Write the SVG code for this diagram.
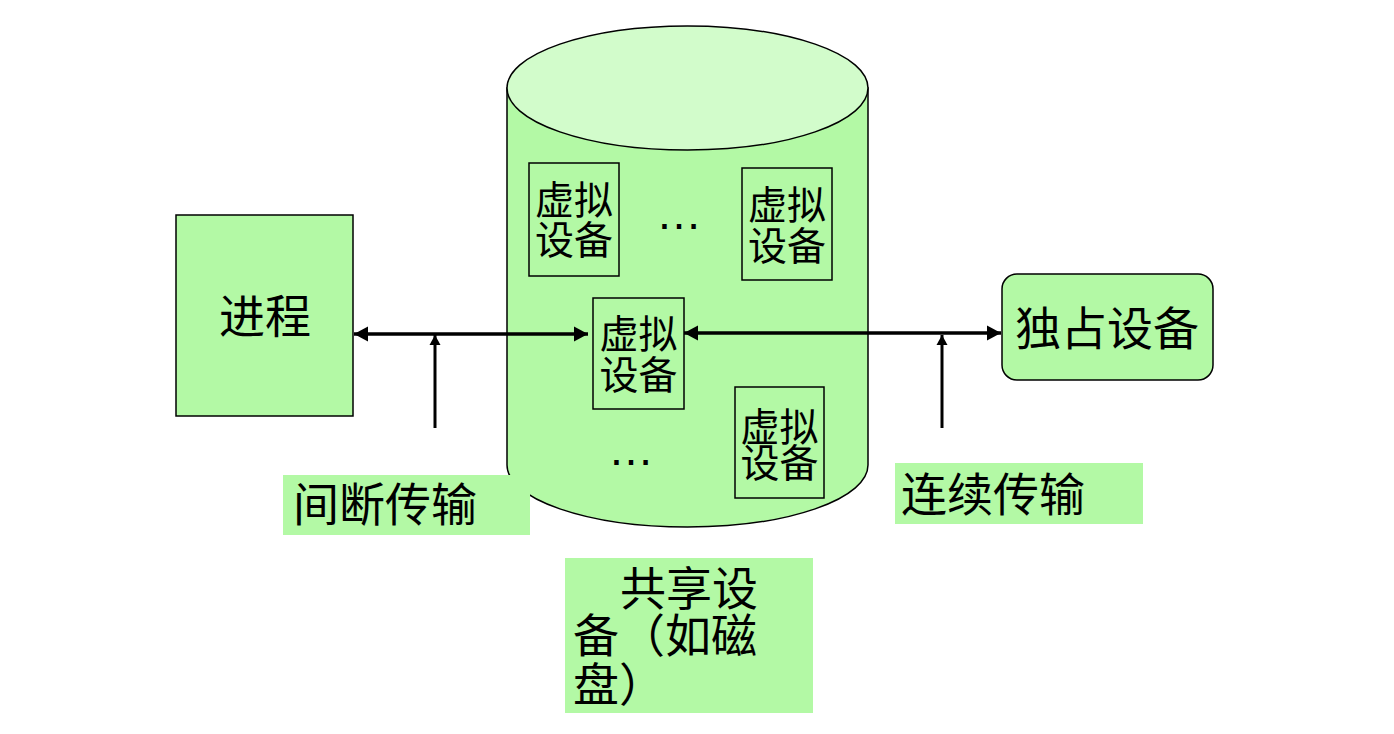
<svg xmlns="http://www.w3.org/2000/svg" width="1394" height="734" viewBox="0 0 1394 734">
<style>
.g{fill:#B3F9A5}
.box{fill:#B3F9A5;stroke:#000;stroke-width:1.5}
.t{font-family:"Noto Sans CJK SC","Noto Sans",sans-serif;fill:#000}
.t46{font-size:46px}
.t40{font-size:39px}
.ell{font-family:"Liberation Sans",Arial,sans-serif;font-size:46px;text-anchor:middle}
.c{text-anchor:middle}
.conn{stroke:#000;fill:none}
</style>
<defs>
<marker id="ah" markerUnits="userSpaceOnUse" markerWidth="16" markerHeight="16" viewBox="0 0 16 16" refX="15" refY="8" orient="auto-start-reverse">
<path d="M1,0.5 L15,8 L1,15.5 Z" fill="#000"/>
</marker>
<marker id="as" markerUnits="userSpaceOnUse" markerWidth="12" markerHeight="12" viewBox="0 0 12 12" refX="11" refY="6" orient="auto">
<path d="M1,0.5 L11,6 L1,11.5 Z" fill="#000"/>
</marker>
</defs>
<rect width="1394" height="734" fill="#fff"/>

<g id="shared-disk">
<path d="M507,88 L507,465 A180.5,62 0 0 0 868,465 L868,88 Z" fill="#B3F9A5" stroke="#000" stroke-width="1.5"/>
<ellipse cx="687.5" cy="88" rx="180.5" ry="62" fill="#D2FCCB" stroke="#000" stroke-width="1.5"/>
</g>

<g id="vdev-tl">
<rect class="box" x="529" y="163" width="90" height="113" stroke-width="1.3"/>
<text class="t t40 c"><tspan x="574" y="214">虚拟</tspan><tspan x="574" y="254">设备</tspan></text>
</g>
<g id="vdev-tr">
<rect class="box" x="742" y="168" width="90" height="112" stroke-width="1.3"/>
<text class="t t40 c"><tspan x="787" y="219">虚拟</tspan><tspan x="787" y="260">设备</tspan></text>
</g>
<g id="vdev-mid">
<rect class="box" x="593" y="298" width="91" height="111" stroke-width="1.3"/>
<text class="t t40 c"><tspan x="638.5" y="348">虚拟</tspan><tspan x="638.5" y="389">设备</tspan></text>
</g>
<g id="vdev-br">
<rect class="box" x="735" y="387" width="89" height="111" stroke-width="1.3"/>
<text class="t t40 c"><tspan x="779.5" y="441">虚拟</tspan><tspan x="779.5" y="477">设备</tspan></text>
</g>
<g id="ellipsis-top"><text class="ell" x="679" y="228.5">…</text></g>
<g id="ellipsis-bottom"><text class="ell" x="631" y="464.5">…</text></g>

<g id="process">
<rect class="box" x="176" y="215" width="177" height="201"/>
<text class="t t46 c" x="265" y="333">进程</text>
</g>

<g id="exclusive-device">
<rect class="box" x="1002" y="274" width="211" height="106" rx="15" ry="15"/>
<text class="t t46 c" x="1107" y="345">独占设备</text>
</g>

<g id="label-intermittent">
<rect class="g" x="283" y="475" width="247" height="60"/>
<text class="t t46" x="293" y="521">间断传输</text>
</g>
<g id="label-continuous">
<rect class="g" x="895" y="463" width="248" height="61"/>
<text class="t t46" x="901" y="511">连续传输</text>
</g>
<g id="label-shared">
<rect class="g" x="565" y="558" width="248" height="155"/>
<text class="t t46"><tspan x="620" y="605">共享设</tspan><tspan x="573" y="652">备（如磁</tspan><tspan x="573" y="701">盘）</tspan></text>
</g>

<g id="connectors">
<line class="conn" x1="354" y1="334" x2="588" y2="334" stroke-width="3.5" marker-start="url(#ah)" marker-end="url(#ah)"/>
<line class="conn" x1="684" y1="333" x2="1001" y2="333" stroke-width="3.5" marker-start="url(#ah)" marker-end="url(#ah)"/>
<line class="conn" x1="435" y1="428" x2="435" y2="335" stroke-width="3" marker-end="url(#as)"/>
<line class="conn" x1="942" y1="428" x2="942" y2="335" stroke-width="3" marker-end="url(#as)"/>
</g>
</svg>
